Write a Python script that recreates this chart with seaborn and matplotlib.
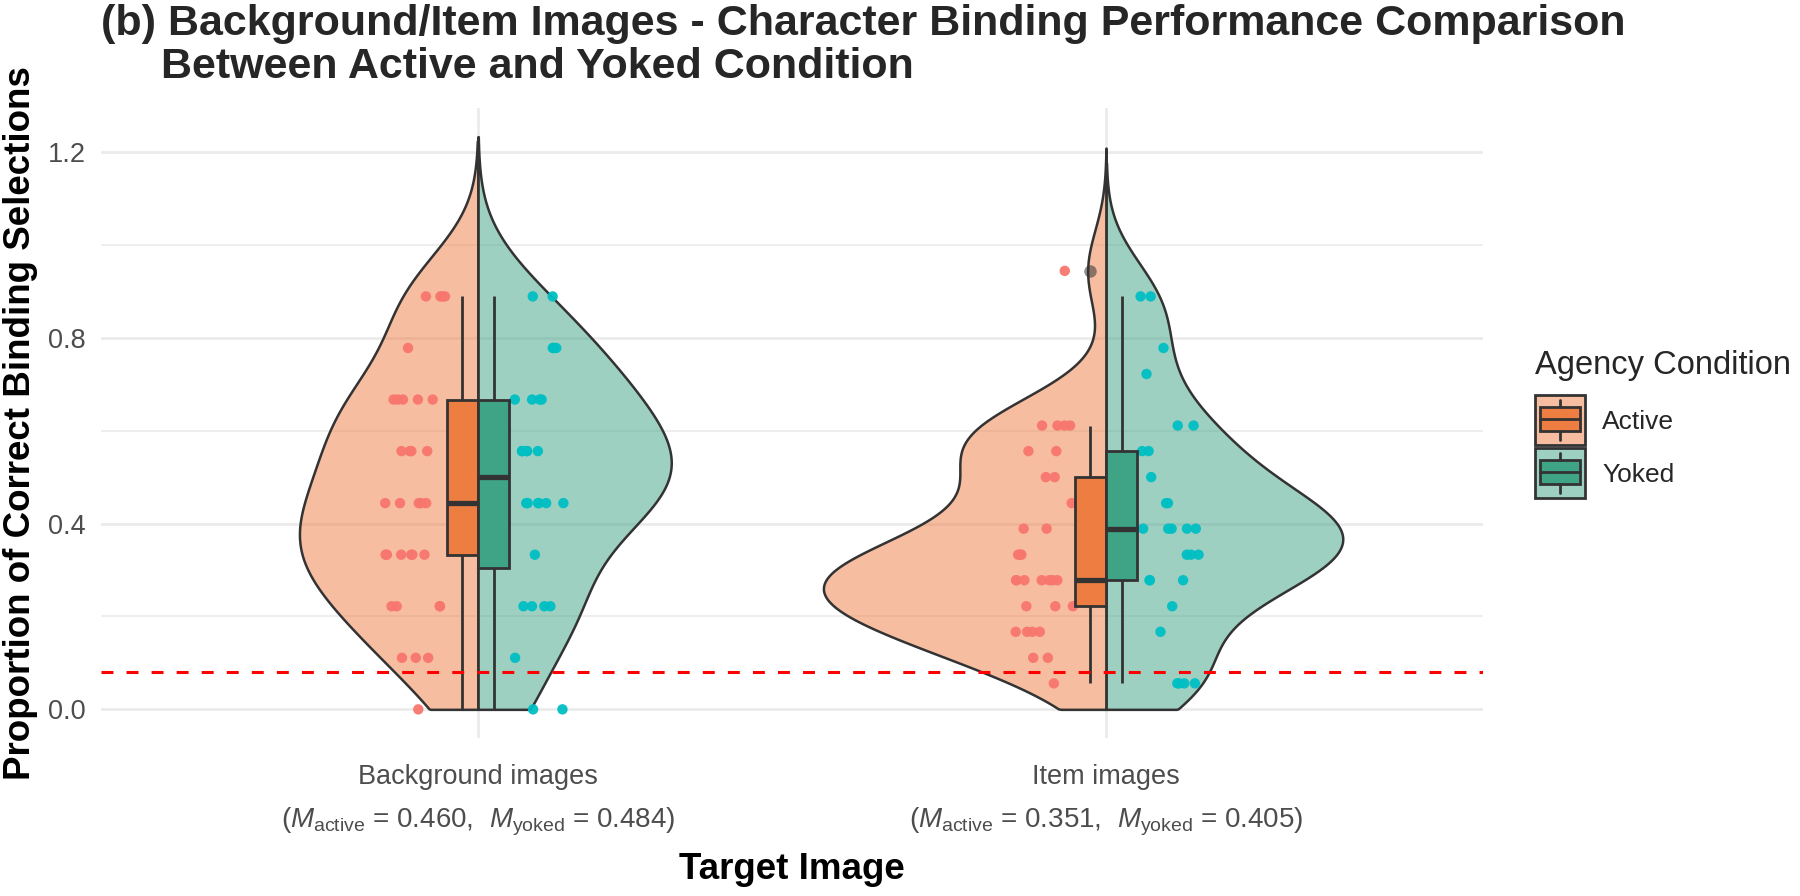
import numpy as np
import pandas as pd
import matplotlib
matplotlib.use("Agg")
import matplotlib.pyplot as plt
import seaborn as sns
from matplotlib.patches import Patch, Rectangle
from matplotlib.lines import Line2D
from matplotlib.legend_handler import HandlerBase
from matplotlib.ticker import MultipleLocator
from matplotlib.colors import to_rgba
import matplotlib.transforms as mtransforms

# Proportion of correct binding selections per participant
bg_active = [0.000, 0.111, 0.111, 0.111, 0.222, 0.222, 0.222, 0.222,
             0.333, 0.333, 0.333, 0.333, 0.333, 0.333,
             0.444, 0.444, 0.444, 0.444, 0.444,
             0.556, 0.556, 0.556, 0.556,
             0.667, 0.667, 0.667, 0.667, 0.667,
             0.778, 0.889, 0.889, 0.889, 0.889]
bg_yoked = [0.000, 0.000, 0.111, 0.222, 0.222, 0.222, 0.222, 0.333,
            0.444, 0.444, 0.444, 0.444, 0.444, 0.444,
            0.556, 0.556, 0.556, 0.556, 0.556,
            0.667, 0.667, 0.667, 0.667,
            0.778, 0.778, 0.778, 0.889, 0.889]
item_active = [0.056, 0.111, 0.111, 0.167, 0.167, 0.167, 0.167,
               0.222, 0.222, 0.222,
               0.278, 0.278, 0.278, 0.278, 0.278, 0.278, 0.278,
               0.333, 0.333, 0.333, 0.389, 0.389, 0.444, 0.500, 0.500,
               0.556, 0.556, 0.611, 0.611, 0.611, 0.611, 0.944]
item_yoked = [0.056, 0.056, 0.056, 0.056, 0.167, 0.222,
              0.278, 0.278, 0.278, 0.333, 0.333, 0.333,
              0.389, 0.389, 0.389, 0.389, 0.389, 0.444, 0.444, 0.500,
              0.556, 0.556, 0.611, 0.611, 0.722, 0.778, 0.889, 0.889]

image_types = ["Background images", "Item images"]
conditions = ["Active", "Yoked"]
mean_labels = [("0.460", "0.484"), ("0.351", "0.405")]
chance_level = 0.08

box_colors = {"Active": "#EE7D42", "Yoked": "#3FA385"}
point_colors = {"Active": "#F8766D", "Yoked": "#00BFC4"}
dark = "#333333"

rows = []
for img, cond, vals in [(image_types[0], "Active", bg_active), (image_types[0], "Yoked", bg_yoked),
                        (image_types[1], "Active", item_active), (image_types[1], "Yoked", item_yoked)]:
    for v in vals:
        rows.append({"image": img, "condition": cond, "prop": v})
df = pd.DataFrame(rows)


def nrd0(kde):
    # R's default bandwidth rule, expressed as a factor of the data sd
    x = kde.dataset.ravel()
    sd = x.std(ddof=1)
    q75, q25 = np.percentile(x, [75, 25])
    return 0.9 * min(sd, (q75 - q25) / 1.34) * len(x) ** -0.2 / sd


sns.set_theme(style="whitegrid")
plt.rcParams["font.family"] = ["Liberation Sans", "DejaVu Sans"]
plt.rcParams["mathtext.fontset"] = "custom"
plt.rcParams["mathtext.rm"] = "Liberation Sans"
plt.rcParams["mathtext.it"] = "Liberation Sans:italic"

fig = plt.figure(figsize=(18, 8.96), dpi=100)
ax = fig.add_axes([101 / 1800, 1 - 738 / 896, 1382 / 1800, 630 / 896])

# split violins
n0 = len(ax.collections)
sns.violinplot(data=df, x="image", y="prop", hue="condition", order=image_types,
               hue_order=conditions, split=True, inner=None, cut=3, bw_method=nrd0,
               density_norm="area", common_norm=True, width=0.9, gridsize=400,
               palette=box_colors, saturation=1, linecolor=dark, linewidth=1.8,
               legend=False, ax=ax)
n1 = len(ax.collections)
top = 0
for coll in ax.collections[n0:n1]:
    new = []
    for p in coll.get_paths():
        v = p.vertices.copy()
        v[:, 1] = np.clip(v[:, 1], 0, None)   # drop density below 0, as in the original
        top = max(top, v[:, 1].max())
        new.append(v)
    coll.set_verts(new)
    fc = coll.get_facecolor()
    fc[:, 3] = 0.5
    coll.set_facecolor(fc)
    coll.set_zorder(1)

# jittered points
np.random.seed(3)
sns.stripplot(data=df, x="image", y="prop", hue="condition", order=image_types,
              hue_order=conditions, dodge=True, jitter=0.1, palette=point_colors,
              size=7.5, alpha=0.95, linewidth=0, legend=False, ax=ax)
for coll in ax.collections[n1:]:
    offs = coll.get_offsets()
    if len(offs):
        xs = offs[:, 0]
        offs[:, 0] = xs - np.sign(xs - np.round(xs)) * 0.1
        coll.set_offsets(offs)
    coll.set_zorder(2)

# boxes
n_patch = len(ax.patches)
n_line = len(ax.lines)
sns.boxplot(data=df, x="image", y="prop", hue="condition", order=image_types,
            hue_order=conditions, dodge=True, width=0.1, gap=0, palette=box_colors,
            saturation=1, linecolor=dark, linewidth=2.0, showcaps=False,
            medianprops={"linewidth": 3.8},
            flierprops={"marker": "o", "markerfacecolor": dark, "markeredgecolor": "none",
                        "markersize": 9, "alpha": 0.55},
            legend=False, ax=ax)
for p in ax.patches[n_patch:]:
    p.set_zorder(3)
for l in ax.lines[n_line:]:
    l.set_zorder(3.5)

ax.axhline(chance_level, color="red", lw=2.2, dashes=(3.9, 4.3), zorder=5)

ax.set_xlim(-0.6, 1.6)
ax.set_ylim(-0.05 * top, top * 1.05)
ax.set_yticks([0, 0.4, 0.8, 1.2])
ax.set_yticklabels(["0.0", "0.4", "0.8", "1.2"])
ax.yaxis.set_minor_locator(MultipleLocator(0.2))
ax.set_axisbelow(True)
ax.grid(False)
ax.grid(which="major", axis="both", color="#EBEBEB", lw=2.0)
ax.grid(which="minor", axis="y", color="#EBEBEB", lw=1.2)
for s in ax.spines.values():
    s.set_visible(False)
ax.set_facecolor("white")
ax.tick_params(axis="both", which="both", length=0, labelsize=19.5, colors="#4D4D4D")
ax.tick_params(axis="x", pad=19)
ax.tick_params(axis="y", pad=11)

trans = mtransforms.blended_transform_factory(ax.transData, ax.transAxes)
for i, (ma, my) in enumerate(mean_labels):
    ax.text(i, -0.1333, rf"($\mathit{{M}}_{{\mathrm{{active}}}}$ = {ma},  $\mathit{{M}}_{{\mathrm{{yoked}}}}$ = {my})",
            transform=trans, ha="center", va="center", fontsize=20, color="#4D4D4D")

ax.set_xlabel("Target Image", fontsize=26.5, fontweight="bold", color="black")
ax.xaxis.set_label_coords(0.5, -0.2095)
ax.xaxis.label.set_va("center")
ax.set_ylabel("Proportion of Correct Binding Selections", fontsize=26.5, fontweight="bold", color="black")
ax.yaxis.set_label_coords(-0.0586, 0.5)
ax.yaxis.label.set_va("center")

fig.text(101 / 1800, 1 - 4 / 896,
         "(b) Background/Item Images - Character Binding Performance Comparison\n"
         "     Between Active and Yoked Condition",
         ha="left", va="top", fontsize=31, fontweight="bold", linespacing=1.1)


class BoxKey(HandlerBase):
    def create_artists(self, legend, orig_handle, xdescent, ydescent, width, height, fontsize, trans):
        # square key, taller than the default text-height drawing area
        h = width
        x0 = -xdescent
        y0 = -ydescent + height / 2 - h / 2
        col = orig_handle.get_facecolor()
        bg = Rectangle((x0, y0), width, h, facecolor=to_rgba(col, 0.5),
                       edgecolor=dark, lw=2, transform=trans)
        box = Rectangle((x0 + 0.1 * width, y0 + 0.27 * h), 0.8 * width, 0.48 * h,
                        facecolor=col, edgecolor=dark, lw=2, transform=trans)
        med = Line2D([x0 + 0.1 * width, x0 + 0.9 * width], [y0 + 0.51 * h] * 2,
                     color=dark, lw=2, transform=trans)
        w1 = Line2D([x0 + 0.5 * width] * 2, [y0 + 0.75 * h, y0 + 0.9 * h],
                    color=dark, lw=2, transform=trans)
        w2 = Line2D([x0 + 0.5 * width] * 2, [y0 + 0.1 * h, y0 + 0.27 * h],
                    color=dark, lw=2, transform=trans)
        return [bg, box, med, w1, w2]


handles = [Patch(facecolor=box_colors[c], label=c) for c in conditions]
leg_fs = 19


def make_legend(ls, sep, anchor_y):
    lg = fig.legend(handles=handles, title="Agency Condition", loc="upper left",
                    bbox_to_anchor=(1535 / 1800, anchor_y), frameon=False,
                    fontsize=leg_fs, title_fontsize=23.5, alignment="left",
                    handler_map={Patch: BoxKey()}, handlelength=1.9,
                    labelspacing=ls, handletextpad=0.65, borderpad=0, borderaxespad=0)
    lg._legend_box.sep = sep
    return lg


# tune legend spacing: title centre at 365 px, rows 53 px apart, first row 57 px below title
ls, sep, ay = 0.6, 12.0, 1 - 354 / 896
leg = make_legend(ls, sep, ay)
for _ in range(3):
    fig.canvas.draw()
    r = fig.canvas.get_renderer()
    tb = leg.get_title().get_window_extent(r)
    b0, b1 = [t.get_window_extent(r) for t in leg.get_texts()]
    title_c = (tb.y0 + tb.y1) / 2
    c0 = (b0.y0 + b0.y1) / 2
    c1 = (b1.y0 + b1.y1) / 2
    leg.remove()
    ls += (53 - (c0 - c1)) / (leg_fs * 100 / 72)
    sep += (57 - (title_c - c0)) * 72 / 100
    ay += ((896 - 365) - title_c) / 896
    leg = make_legend(ls, sep, ay)

fig.savefig("out.png", dpi=100, facecolor="white")
